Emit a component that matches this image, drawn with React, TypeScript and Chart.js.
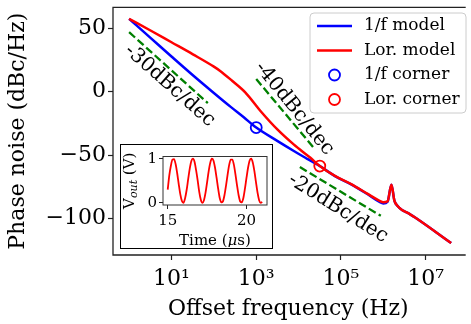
import React, { useEffect, useRef } from "react";
import { Chart, registerables } from "chart.js";

Chart.register(...registerables);

const SERIF = "'DejaVu Serif', 'Liberation Serif', serif";

// ---------------- main chart data ----------------
const oneOverFFreq = [1, 3.2, 10, 32, 100, 250, 500, 1000, 3200, 7900, 16000, 31600, 72000, 174000, 427000, 794000, 1000000, 1260000, 1550000, 1820000, 2140000, 2820000, 3550000, 4370000, 5620000, 39800000];
const oneOverFVal = [57.5, 42.5, 27.8, 13.0, -1.0, -12.0, -20.0, -28.3, -39.0, -47.0, -53.0, -58.7, -66.6, -73.1, -81.0, -86.8, -88.2, -86.8, -73.5, -86.0, -90.0, -93.6, -95.3, -97.0, -99.3, -119.5];

const lorFreq = [1, 3.2, 10, 32, 100, 141, 270, 550, 1320, 3240, 7760, 19000, 31600, 72000, 174000, 427000, 794000, 1000000, 1260000, 1550000, 1820000, 2140000, 2820000, 3550000, 4370000, 5620000, 39800000];
const lorVal = [57.5, 48.3, 39.0, 29.5, 19.8, 16.4, 8.6, -0.5, -16.0, -30.2, -41.8, -52.2, -58.7, -66.5, -72.9, -80.7, -85.9, -87.3, -86.5, -73.5, -86.0, -90.0, -93.6, -95.3, -97.0, -99.3, -119.5];

const cornerFreq = [1000, 31600];
const cornerVal = [-28.3, -58.7];

const guide30Freq = [1, 72];
const guide30Val = [47, -9];
const guide40Freq = [1000, 24000];
const guide40Val = [10, -45.2];
const guide20Freq = [10700, 871000];
const guide20Val = [-59.5, -98];

const slopeLabels = ["-30dBc/dec", "-40dBc/dec", "-20dBc/dec"];
const legendLabels = ["1/f model", "Lor. model", "1/f corner", "Lor. corner"];

const xTickValues = [10, 1000, 100000, 10000000];
const xTickLabels = ["10\u00B9", "10\u00B3", "10\u2075", "10\u2077"];
const yTickValues = [-100, -50, 0, 50];

// ---------------- inset data ----------------
const insetTime = [15.0, 15.1, 15.2, 15.3, 15.4, 15.5, 15.6, 15.7, 15.8, 15.9, 16.0, 16.1, 16.2, 16.3, 16.4, 16.5, 16.6, 16.7, 16.8, 16.9, 17.0, 17.1, 17.2, 17.3, 17.4, 17.5, 17.6, 17.7, 17.8, 17.9, 18.0, 18.1, 18.2, 18.3, 18.4, 18.5, 18.6, 18.7, 18.8, 18.9, 19.0, 19.1, 19.2, 19.3, 19.4, 19.5, 19.6, 19.7, 19.8, 19.9, 20.0, 20.1, 20.2, 20.3, 20.4, 20.5, 20.6, 20.7, 20.8, 20.9, 21.0];
const insetVout = [0.3, 0.62, 0.84, 0.98, 0.99, 0.88, 0.67, 0.42, 0.19, 0.04, 0.0, 0.1, 0.29, 0.54, 0.78, 0.95, 1.0, 0.93, 0.74, 0.51, 0.25, 0.07, 0.0, 0.06, 0.23, 0.47, 0.72, 0.91, 1.0, 0.96, 0.8, 0.57, 0.32, 0.11, 0.01, 0.03, 0.17, 0.39, 0.64, 0.86, 0.98, 0.98, 0.86, 0.64, 0.39, 0.17, 0.03, 0.01, 0.11, 0.32, 0.57, 0.8, 0.96, 1.0, 0.91, 0.72, 0.47, 0.23, 0.06, 0.0, 0.02];
const insetXTicks = [15, 20];
const insetYTicks = [0, 1];

// ---------------- placement / style ----------------
const BLUE = "#0000ff";
const RED = "#ff0000";
const GREEN = "#008000";
const W = 471;
const H = 324;
const annotPlacement = [
  { f: Math.pow(10, 0.96), v: 4.7, deg: 41.5 },
  { f: Math.pow(10, 3.9), v: -13.4, deg: 51 },
  { f: Math.pow(10, 4.93), v: -92, deg: 32 },
];

const pts = (xs: number[], ys: number[]) => xs.map((x, i) => ({ x, y: ys[i] }));
const fmtY = (v: number) => (v < 0 ? "\u2212" + Math.abs(v) : String(v));

const framePlugin = {
  id: "frame",
  afterDraw(chart: any) {
    const { ctx, chartArea: a } = chart;
    ctx.save();
    ctx.strokeStyle = "#222";
    ctx.lineWidth = 1.3;
    ctx.beginPath();
    ctx.moveTo(a.right + 2, a.top);
    ctx.lineTo(a.left, a.top);
    ctx.lineTo(a.left, a.bottom);
    ctx.lineTo(a.right + 2, a.bottom);
    ctx.stroke();
    ctx.restore();
  },
};

const annotPlugin = {
  id: "annot",
  afterDatasetsDraw(chart: any) {
    const { ctx } = chart;
    const xs = chart.scales.x;
    const ys = chart.scales.y;
    ctx.save();
    ctx.fillStyle = "#000";
    ctx.font = `20px ${SERIF}`;
    ctx.textAlign = "center";
    ctx.textBaseline = "middle";
    slopeLabels.forEach((t, i) => {
      const p = annotPlacement[i];
      ctx.save();
      ctx.translate(xs.getPixelForValue(p.f), ys.getPixelForValue(p.v));
      ctx.rotate((p.deg * Math.PI) / 180);
      ctx.fillText(t, 0, 0);
      ctx.restore();
    });
    ctx.restore();
  },
};

const legendPlugin = {
  id: "customLegend",
  afterDraw(chart: any) {
    const { ctx } = chart;
    const bx = 310, by = 13, bw = 156, bh = 100, r = 4;
    ctx.save();
    ctx.beginPath();
    ctx.moveTo(bx + r, by);
    ctx.arcTo(bx + bw, by, bx + bw, by + bh, r);
    ctx.arcTo(bx + bw, by + bh, bx, by + bh, r);
    ctx.arcTo(bx, by + bh, bx, by, r);
    ctx.arcTo(bx, by, bx + bw, by, r);
    ctx.closePath();
    ctx.fillStyle = "rgba(255,255,255,0.85)";
    ctx.fill();
    ctx.strokeStyle = "#cccccc";
    ctx.lineWidth = 1;
    ctx.stroke();
    const rowsY = [26, 50.5, 75, 99.5];
    const colors = [BLUE, RED, BLUE, RED];
    legendLabels.forEach((lab, i) => {
      const y = rowsY[i];
      ctx.strokeStyle = colors[i];
      if (i < 2) {
        ctx.lineWidth = 2.5;
        ctx.beginPath();
        ctx.moveTo(317, y);
        ctx.lineTo(352, y);
        ctx.stroke();
      } else {
        ctx.lineWidth = 1.8;
        ctx.beginPath();
        ctx.arc(334.5, y, 5.5, 0, Math.PI * 2);
        ctx.stroke();
      }
      ctx.fillStyle = "#000";
      ctx.font = `17px ${SERIF}`;
      ctx.textAlign = "left";
      ctx.textBaseline = "middle";
      ctx.fillText(lab, 364, y);
    });
    ctx.restore();
  },
};

type Part = { text: string; font: string; dy: number };
function drawRich(ctx: CanvasRenderingContext2D, parts: Part[], cx: number, cy: number, rot: number) {
  ctx.save();
  ctx.translate(cx, cy);
  ctx.rotate(rot);
  ctx.textAlign = "left";
  ctx.textBaseline = "alphabetic";
  ctx.fillStyle = "#000";
  const widths = parts.map((p) => {
    ctx.font = p.font;
    return ctx.measureText(p.text).width;
  });
  let x = -widths.reduce((a, b) => a + b, 0) / 2;
  parts.forEach((p, i) => {
    ctx.font = p.font;
    ctx.fillText(p.text, x, p.dy);
    x += widths[i];
  });
  ctx.restore();
}

const insetPlugin = {
  id: "insetDecor",
  afterDraw(chart: any) {
    const { ctx, chartArea: a } = chart;
    ctx.save();
    ctx.strokeStyle = "#333";
    ctx.lineWidth = 1;
    ctx.strokeRect(a.left, a.top, a.right - a.left, a.bottom - a.top);
    ctx.restore();
    const f = `15px ${SERIF}`;
    const fi = `italic 15px ${SERIF}`;
    const fs = `italic 11px ${SERIF}`;
    drawRich(
      ctx,
      [
        { text: "Time (", font: f, dy: 5 },
        { text: "\u03BC", font: fi, dy: 5 },
        { text: "s)", font: f, dy: 5 },
      ],
      (a.left + a.right) / 2,
      95,
      0
    );
    drawRich(
      ctx,
      [
        { text: "V", font: f, dy: 5 },
        { text: "out", font: fs, dy: 8 },
        { text: " (V)", font: f, dy: 5 },
      ],
      7.5,
      (a.top + a.bottom) / 2,
      -Math.PI / 2
    );
  },
};

export default function App() {
  const mainRef = useRef<HTMLCanvasElement>(null);
  const insetRef = useRef<HTMLCanvasElement>(null);

  useEffect(() => {
    if (!mainRef.current || !insetRef.current) return;
    const tickFont = { family: SERIF, size: 22 };
    const main = new Chart(mainRef.current, {
      type: "line",
      data: {
        datasets: [
          {
            label: legendLabels[2],
            data: pts(cornerFreq.slice(0, 1), cornerVal.slice(0, 1)),
            showLine: false,
            pointRadius: 5.5,
            pointBorderWidth: 1.8,
            pointBorderColor: BLUE,
            pointBackgroundColor: "rgba(0,0,0,0)",
            order: 0,
          },
          {
            label: legendLabels[3],
            data: pts(cornerFreq.slice(1, 2), cornerVal.slice(1, 2)),
            showLine: false,
            pointRadius: 5.5,
            pointBorderWidth: 1.8,
            pointBorderColor: RED,
            pointBackgroundColor: "rgba(0,0,0,0)",
            order: 0,
          },
          {
            label: legendLabels[1],
            data: pts(lorFreq, lorVal),
            borderColor: RED,
            borderWidth: 2.5,
            pointRadius: 0,
            cubicInterpolationMode: "monotone",
            order: 1,
          },
          {
            label: legendLabels[0],
            data: pts(oneOverFFreq, oneOverFVal),
            borderColor: BLUE,
            borderWidth: 2.5,
            pointRadius: 0,
            cubicInterpolationMode: "monotone",
            order: 2,
          },
          ...[
            [guide30Freq, guide30Val],
            [guide40Freq, guide40Val],
            [guide20Freq, guide20Val],
          ].map(([fx, vy]) => ({
            label: "guide",
            data: pts(fx, vy),
            borderColor: GREEN,
            borderWidth: 2.3,
            borderDash: [8, 3.5],
            pointRadius: 0,
            order: 3,
          })),
        ],
      },
      options: {
        animation: false,
        responsive: false,
        maintainAspectRatio: false,
        layout: { padding: { top: 4, right: 0, left: 0, bottom: 0 } },
        plugins: { legend: { display: false }, tooltip: { enabled: false } },
        scales: {
          x: {
            type: "logarithmic",
            min: Math.pow(10, -0.38),
            max: Math.pow(10, 7.896),
            afterBuildTicks: (s: any) => {
              s.ticks = xTickValues.map((value) => ({ value }));
            },
            afterFit: (s: any) => {
              s.height = H - 255;
              s.paddingLeft = 0;
              s.paddingRight = 0;
            },
            border: { display: false },
            grid: { display: true, drawOnChartArea: false, drawTicks: true, tickLength: 5, tickColor: "#222", tickWidth: 1.2 },
            ticks: {
              autoSkip: false,
              maxRotation: 0,
              padding: 6,
              color: "#000",
              font: tickFont,
              callback: (_v: any, i: number) => xTickLabels[i],
            },
            title: { display: true, text: "Offset frequency (Hz)", color: "#000", font: tickFont, padding: { top: 0, bottom: 2 } },
          },
          y: {
            type: "linear",
            min: -128.9,
            max: 66.6,
            afterBuildTicks: (s: any) => {
              s.ticks = yTickValues.map((value) => ({ value }));
            },
            afterFit: (s: any) => {
              s.width = 113;
              s.paddingTop = 0;
              s.paddingBottom = 0;
            },
            border: { display: false },
            grid: { display: true, drawOnChartArea: false, drawTicks: true, tickLength: 5, tickColor: "#222", tickWidth: 1.2 },
            ticks: { padding: 2, color: "#000", font: tickFont, callback: (v: any) => fmtY(Number(v)) },
            title: { display: true, text: "Phase noise (dBc/Hz)", color: "#000", font: tickFont, padding: { top: 5, bottom: 0 } },
          },
        },
      } as any,
      plugins: [annotPlugin, framePlugin, legendPlugin],
    });

    const insetFont = { family: SERIF, size: 15 };
    const inset = new Chart(insetRef.current, {
      type: "line",
      data: {
        datasets: [
          {
            data: pts(insetTime, insetVout),
            borderColor: RED,
            borderWidth: 1.8,
            pointRadius: 0,
            cubicInterpolationMode: "monotone",
          },
        ],
      },
      options: {
        animation: false,
        responsive: false,
        maintainAspectRatio: false,
        layout: { padding: { top: 11.5, right: 4, left: 0, bottom: 0 } },
        plugins: { legend: { display: false }, tooltip: { enabled: false } },
        scales: {
          x: {
            type: "linear",
            min: 14.7,
            max: 21.3,
            afterBuildTicks: (s: any) => {
              s.ticks = insetXTicks.map((value) => ({ value }));
            },
            afterFit: (s: any) => {
              s.height = 42;
              s.paddingLeft = 0;
              s.paddingRight = 0;
            },
            border: { display: false },
            grid: { display: true, drawOnChartArea: false, drawTicks: true, tickLength: 4, tickColor: "#222" },
            ticks: { autoSkip: false, maxRotation: 0, padding: 3, color: "#000", font: insetFont },
          },
          y: {
            type: "linear",
            min: -0.05,
            max: 1.05,
            afterBuildTicks: (s: any) => {
              s.ticks = insetYTicks.map((value) => ({ value }));
            },
            afterFit: (s: any) => {
              s.width = 42;
              s.paddingTop = 0;
              s.paddingBottom = 0;
            },
            border: { display: false },
            grid: { display: true, drawOnChartArea: false, drawTicks: true, tickLength: 4, tickColor: "#222" },
            ticks: { padding: 2, color: "#000", font: insetFont },
          },
        },
      } as any,
      plugins: [insetPlugin],
    });

    return () => {
      main.destroy();
      inset.destroy();
    };
  }, []);

  return (
    <div style={{ position: "fixed", left: 0, top: 0, width: W, height: H, background: "#fff", overflow: "hidden" }}>
      <canvas ref={mainRef} width={W} height={H} style={{ position: "absolute", left: 0, top: 0, width: W, height: H }} />
      <div
        style={{
          position: "absolute",
          left: 120,
          top: 144,
          width: 153,
          height: 105,
          boxSizing: "border-box",
          border: "1.5px solid #000",
          background: "#fff",
        }}
      >
        <canvas ref={insetRef} width={150} height={102} style={{ display: "block", width: 150, height: 102 }} />
      </div>
    </div>
  );
}
